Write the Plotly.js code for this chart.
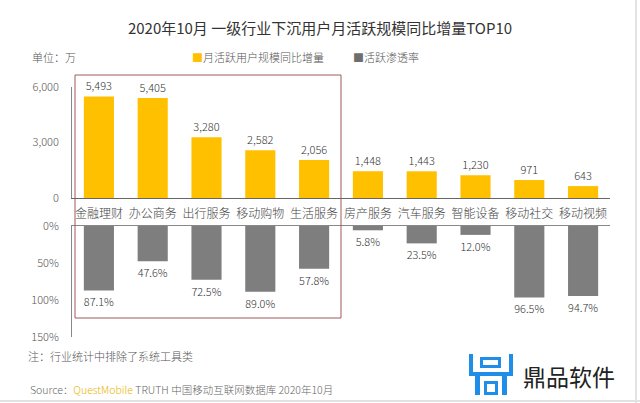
<!DOCTYPE html>
<html>
<head>
<meta charset="utf-8">
<script src="https://cdn.plot.ly/plotly-3.0.1.min.js"></script>
<style>html,body{margin:0;padding:0;background:#fff;}#chart{width:640px;height:403px;}</style>
</head>
<body>
<div id="chart"></div>
<script>
const categories = ["金融理财","办公商务","出行服务","移动购物","生活服务","房产服务","汽车服务","智能设备","移动社交","移动视频"];
const mauGrowth = [5493,5405,3280,2582,2056,1448,1443,1230,971,643];
const penetration = [87.1,47.6,72.5,89.0,57.8,5.8,23.5,12.0,96.5,94.7];
const topTicks = [0,3000,6000];
const bottomTicks = [0,50,100,150];

const FONT = '"Noto Sans CJK SC", "Noto Sans", sans-serif';
const H = 403, W = 640;
const py = p => 1 - p / H;
const px = p => p / W;

const traces = [
  {
    type: 'bar', x: categories, y: mauGrowth, xaxis: 'x', yaxis: 'y',
    marker: {color: '#FFC000'},
    texttemplate: '%{y:,}', textposition: 'outside', cliponaxis: false,
    textfont: {family: FONT, size: 11, color: '#333', weight: 300},
    showlegend: false, hoverinfo: 'skip'
  },
  {
    type: 'bar', x: categories, y: penetration, xaxis: 'x2', yaxis: 'y2',
    marker: {color: '#7E7E7E'},
    texttemplate: '%{y:.1f}%', textposition: 'outside', cliponaxis: false,
    textfont: {family: FONT, size: 11, color: '#333', weight: 300},
    showlegend: false, hoverinfo: 'skip'
  }
];

const layout = {
  width: W, height: H,
  margin: {l: 0, r: 0, t: 0, b: 0},
  paper_bgcolor: '#fff', plot_bgcolor: 'rgba(0,0,0,0)',
  font: {family: FONT, color: '#555', weight: 300},
  bargap: 0.44,
  showlegend: false,
  title: {text: '2020年10月 一级行业下沉用户月活跃规模同比增量TOP10', x: 0.5, xanchor: 'center', y: py(29), yanchor: 'middle',
          font: {family: FONT, size: 15, color: '#333', weight: 400}},
  xaxis: {domain: [px(72), px(610)], anchor: 'y', showline: true, linecolor: '#666', linewidth: 1,
          ticks: '', showgrid: false, zeroline: false, ticklabelstandoff: 5,
          tickfont: {family: FONT, size: 12, color: '#444', weight: 300}},
  yaxis: {domain: [py(198), py(87)], range: [0, 6000], anchor: 'x', tickvals: topTicks, tickformat: ',',
          showline: true, linecolor: '#888', linewidth: 1, showgrid: false, zeroline: false, ticks: '',
          ticklabelstandoff: 10, tickfont: {family: FONT, size: 11, color: '#555', weight: 300}},
  xaxis2: {domain: [px(72), px(610)], anchor: 'y2', matches: 'x', showticklabels: false, side: 'top',
           showline: true, linecolor: '#888', linewidth: 1, ticks: '', showgrid: false, zeroline: false},
  yaxis2: {domain: [py(337), py(226)], range: [150, 0], anchor: 'x2', tickmode: 'array', tickvals: bottomTicks,
           ticktext: bottomTicks.map(v => v + '%'),
           showline: true, linecolor: '#888', linewidth: 1, showgrid: false, zeroline: false, ticks: '',
           ticklabelstandoff: 10, tickfont: {family: FONT, size: 11, color: '#555', weight: 300}},
  shapes: [
    {type: 'rect', xref: 'paper', yref: 'paper', x0: px(75), x1: px(341), y0: py(318), y1: py(75),
     line: {color: '#A05A5A', width: 1}},
    {type: 'line', xref: 'paper', yref: 'paper', x0: px(636), x1: px(636), y0: 0, y1: 1, line: {color: '#e2e2e2', width: 2}},
    {type: 'line', xref: 'paper', yref: 'paper', x0: 0, x1: 1, y0: py(401), y1: py(401), line: {color: '#e2e2e2', width: 2}}
  ],
  annotations: [
    {text: '单位：万', xref: 'paper', yref: 'paper', x: px(30), y: py(57), xanchor: 'left', yanchor: 'middle', showarrow: false,
     font: {family: FONT, size: 11, color: '#555', weight: 300}},
    {text: '<span style="color:#FFC000">■</span>月活跃用户规模同比增量', xref: 'paper', yref: 'paper', x: px(190), y: py(57),
     xanchor: 'left', yanchor: 'middle', showarrow: false, font: {family: FONT, size: 11, color: '#555', weight: 300}},
    {text: '<span style="color:#6E6E6E">■</span>活跃渗透率', xref: 'paper', yref: 'paper', x: px(351), y: py(57),
     xanchor: 'left', yanchor: 'middle', showarrow: false, font: {family: FONT, size: 11, color: '#555', weight: 300}},
    {text: '注：行业统计中排除了系统工具类', xref: 'paper', yref: 'paper', x: px(26), y: py(356), xanchor: 'left', yanchor: 'middle',
     showarrow: false, font: {family: FONT, size: 11, color: '#555', weight: 300}},
    {text: 'Source：<span style="color:#E8B400">QuestMobile</span> TRUTH 中国移动互联网数据库 2020年10月', xref: 'paper', yref: 'paper',
     x: px(28), y: py(389), xanchor: 'left', yanchor: 'middle', showarrow: false, font: {family: FONT, size: 10.5, color: '#666', weight: 300}},
    {text: '鼎品软件', xref: 'paper', yref: 'paper', x: px(521), y: py(376), xanchor: 'left', yanchor: 'middle', showarrow: false,
     font: {family: FONT, size: 23, color: '#222', weight: 400}}
  ]
};

// logo icon built from small blue rectangles (decorative)
const blue = '#1E8EE8';
const r = (x0, y0, x1, y1) => ({type: 'rect', xref: 'paper', yref: 'paper', x0: px(x0), x1: px(x1), y0: py(y1), y1: py(y0),
  line: {width: 0}, fillcolor: blue});
layout.shapes.push(
  r(469, 354, 473, 376), r(509, 354, 513, 376), r(469, 372, 513, 376),
  r(480, 357, 501, 360), r(480, 357, 483, 368), r(498, 357, 501, 368), r(480, 365, 501, 368),
  r(475, 376, 480, 395), r(502, 376, 507, 395),
  r(484, 381, 498, 384), r(484, 381, 487, 395), r(495, 381, 498, 395), r(484, 392, 498, 395)
);

Plotly.newPlot('chart', traces, layout, {staticPlot: true, displayModeBar: false});
</script>
</body>
</html>
